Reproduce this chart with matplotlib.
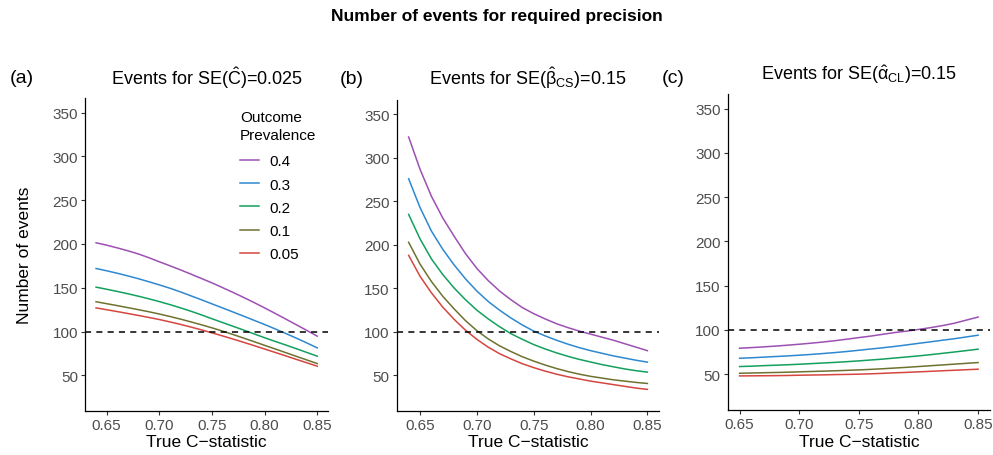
import numpy as np
import matplotlib
matplotlib.use("Agg")
import matplotlib.pyplot as plt
from matplotlib.lines import Line2D

plt.rcParams['font.family'] = ['Liberation Sans', 'DejaVu Sans']
plt.rcParams['mathtext.fontset'] = 'custom'
plt.rcParams['mathtext.rm'] = 'Liberation Sans'
plt.rcParams['mathtext.it'] = 'Liberation Sans:italic'
plt.rcParams['mathtext.bf'] = 'Liberation Sans:bold'

# data
cstat_ab = [0.64, 0.65, 0.66, 0.67, 0.68, 0.69, 0.70, 0.71, 0.72, 0.73, 0.74,
            0.75, 0.76, 0.77, 0.78, 0.79, 0.80, 0.81, 0.82, 0.83, 0.84, 0.85]
cstat_c = [0.65, 0.66, 0.67, 0.68, 0.69, 0.70, 0.71, 0.72, 0.73, 0.74, 0.75,
           0.76, 0.77, 0.78, 0.79, 0.80, 0.81, 0.82, 0.83, 0.84, 0.85]

prevalence = ['0.4', '0.3', '0.2', '0.1', '0.05']
colours = ['#9C50B3', '#2E88D0', '#13A05E', '#6E722F', '#D5463F']

# (a) SE(C) = 0.025
ev_a = {
    '0.4': [201.4, 198.7, 195.6, 192.3, 188.7, 184.4, 179.7, 175.2, 170.5, 165.6, 160.6,
            155.6, 150.2, 144.7, 139, 133.1, 127, 120.7, 114.3, 107.8, 101.3, 94.7],
    '0.3': [172, 169.4, 166.6, 163.6, 160.4, 156.9, 153.3, 149.5, 145.3, 140.8, 136.3,
            131.6, 127, 122.3, 117.6, 112.8, 108, 103, 97.8, 92.5, 87, 81.3],
    '0.2': [150.7, 148.3, 145.8, 143.2, 140.4, 137.4, 134.2, 130.8, 127.1, 123.2, 119,
            114.6, 110.3, 106, 101.7, 97.3, 92.9, 88.7, 84.6, 80.4, 76.1, 71.8],
    '0.1': [134, 131.8, 129.6, 127.3, 125, 122.6, 120, 117.2, 114.2, 111, 107.7,
            104.2, 100.5, 96.6, 92.5, 88.4, 84.2, 80.1, 75.9, 71.7, 67.5, 63.4],
    '0.05': [127, 124.9, 122.8, 120.6, 118.4, 116.1, 113.7, 111, 108.2, 105.1, 101.9,
             98.5, 95, 91.4, 87.7, 83.9, 80, 76.1, 72.2, 68.2, 64.3, 60.4],
}

# (b) SE(beta_CS) = 0.15
ev_b = {
    '0.4': [324, 287, 256, 231, 210, 190, 173, 159, 147, 137, 128,
            121, 115, 109.5, 105, 101, 97.5, 94, 90.5, 86.5, 82.5, 78.5],
    '0.3': [276, 243, 216, 195, 177, 161, 147, 135, 125, 116, 108,
            101, 95.5, 90.5, 86, 82, 78.5, 75.5, 72.5, 70, 67.5, 65.3],
    '0.2': [235, 207, 184, 166, 150.5, 137, 125, 115, 106, 98, 91.5,
            85.5, 80.5, 76, 72, 68.5, 65.5, 62.5, 60, 57.5, 55.5, 53.8],
    '0.1': [203, 178, 158, 141, 126.5, 113, 101.5, 92, 84, 77.5, 71.5,
            66.5, 62, 58, 54.5, 51.5, 49, 47, 45, 43.5, 42, 40.8],
    '0.05': [188, 164, 145, 128.5, 114.5, 102, 91.5, 82.5, 75, 69, 63.5,
             59, 55, 51.5, 48.5, 46, 43.5, 41.5, 39.5, 37.5, 35.5, 34],
}

# (c) SE(alpha_CL) = 0.15
ev_c = {
    '0.4': [79.3, 80, 80.8, 81.7, 82.7, 83.8, 85, 86.3, 87.8, 89.5, 91.3,
            93, 95, 97, 98.6, 100.5, 102.5, 104.8, 107.5, 111, 114.5],
    '0.3': [68, 68.5, 69.2, 69.9, 70.6, 71.4, 72.3, 73.3, 74.4, 75.6, 77,
            78.4, 79.8, 81.3, 83, 84.8, 86.5, 88.3, 90, 92, 94],
    '0.2': [58.6, 59, 59.6, 60.1, 60.6, 61.2, 61.9, 62.6, 63.3, 64.1, 65,
            66, 67, 68.2, 69.4, 70.6, 72, 73.5, 75, 76.6, 78.2],
    '0.1': [51, 51.3, 51.6, 51.9, 52.2, 52.6, 53, 53.4, 53.8, 54.3, 54.8,
            55.4, 56.1, 56.9, 57.7, 58.6, 59.5, 60.4, 61.3, 62.2, 63.1],
    '0.05': [48, 48.1, 48.2, 48.3, 48.5, 48.8, 49.0, 49.2, 49.5, 49.7, 50,
             50.4, 50.9, 51.5, 52, 52.6, 53.2, 53.8, 54.4, 55, 55.6],
}

xticks = [0.65, 0.70, 0.75, 0.80, 0.85]
xtick_labels = ['0.65', '0.70', '0.75', '0.80', '0.85']
yticks = [50, 100, 150, 200, 250, 300, 350]
target = 100

titles = [r'Events for SE($\hat{\mathrm{C}}$)=0.025',
          r'Events for SE($\hat{\mathrm{β}}_{\mathrm{CS}}$)=0.15',
          r'Events for SE($\hat{\mathrm{α}}_{\mathrm{CL}}$)=0.15']
tags = ['(a)', '(b)', '(c)']

W, H = 993, 456
fig = plt.figure(figsize=(W / 100, H / 100), dpi=100)

# axes boxes in pixels: left, top, right, bottom
boxes = [(85, 99.3, 328.3, 411.7),
         (396.7, 101, 659.3, 411.7),
         (727.7, 95, 990, 411)]
title_y = [85, 85, 80]
tag_x = [10, 340, 662]
tag_y = [83, 84, 83]

panels = [(cstat_ab, ev_a), (cstat_ab, ev_b), (cstat_c, ev_c)]
xlims = [(0.6295, 0.8605), (0.6295, 0.8605), (0.64, 0.86)]

axes = []
for i, (box, (xs, ev)) in enumerate(zip(boxes, panels)):
    l, t, r, b = box
    ax = fig.add_axes([l / W, 1 - b / H, (r - l) / W, (b - t) / H])
    for p, col in zip(prevalence, colours):
        ax.plot(xs, ev[p], color=col, lw=1.1, label=p)
    ax.axhline(target, color='black', lw=1.1, ls=(0, (4, 3.4)))
    ax.set_xlim(*xlims[i])
    ax.set_ylim(9.5, 366.5)
    ax.set_xticks(xticks)
    ax.set_xticklabels(xtick_labels)
    ax.set_yticks(yticks)
    for s in ['top', 'right']:
        ax.spines[s].set_visible(False)
    for s in ['left', 'bottom']:
        ax.spines[s].set_linewidth(0.9)
        ax.spines[s].set_color('black')
    ax.tick_params(axis='both', length=3, width=0.8, color='#333333',
                   labelsize=11, labelcolor='#4D4D4D', pad=2)
    ax.set_xlabel('True C\u2212statistic', fontsize=12.5, labelpad=2)
    fig.text(((l + r) / 2) / W, 1 - title_y[i] / H, titles[i],
             ha='center', va='baseline', fontsize=13)
    fig.text(tag_x[i] / W, 1 - tag_y[i] / H, tags[i],
             ha='left', va='baseline', fontsize=14)
    axes.append(ax)

axes[0].set_ylabel('Number of events', fontsize=12.5, labelpad=15)

handles = [Line2D([0], [0], color=c, lw=1.1) for c in colours]
leg = axes[0].legend(handles, prevalence, title='Outcome\nPrevalence',
                     loc='upper left', bbox_to_anchor=(240 / W, 1 - 111 / H),
                     bbox_transform=fig.transFigure, frameon=False,
                     fontsize=11, title_fontsize=11, borderpad=0,
                     borderaxespad=0, handlelength=1.25, handletextpad=0.7,
                     labelspacing=0.6, alignment='left')
leg.get_title().set_linespacing(1.35)
leg._legend_box.sep = 9

fig.text(0.5, 1 - 17 / H, 'Number of events for required precision',
         ha='center', va='center', fontsize=12.5, fontweight='bold')

fig.savefig('out.png', dpi=100)
